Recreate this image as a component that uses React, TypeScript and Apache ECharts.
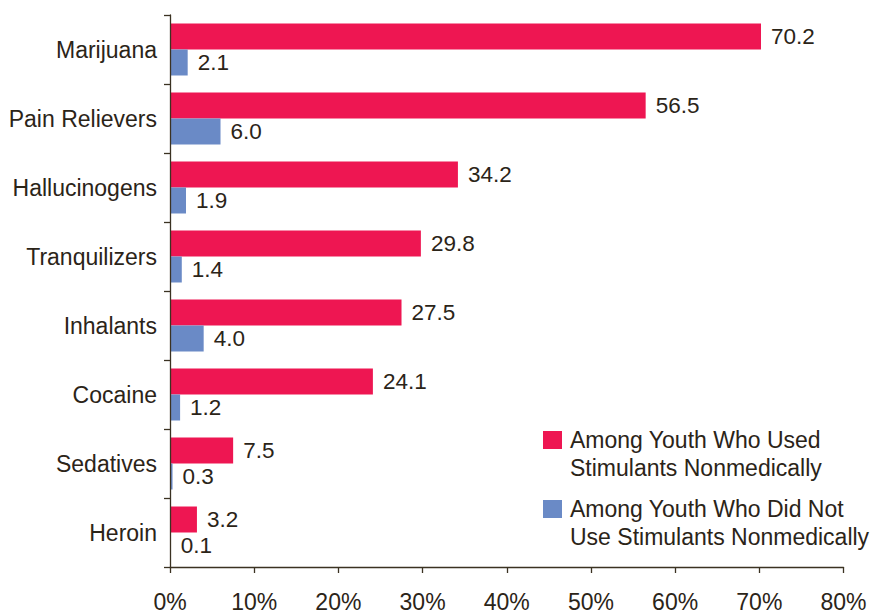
import React, { useEffect, useRef } from "react";
import * as echarts from "echarts";

const categories = [
  "Marijuana",
  "Pain Relievers",
  "Hallucinogens",
  "Tranquilizers",
  "Inhalants",
  "Cocaine",
  "Sedatives",
  "Heroin",
];
const usedValues = [70.2, 56.5, 34.2, 29.8, 27.5, 24.1, 7.5, 3.2];
const notUsedValues = [2.1, 6.0, 1.9, 1.4, 4.0, 1.2, 0.3, 0.1];
const seriesNames = [
  "Among Youth Who Used\nStimulants Nonmedically",
  "Among Youth Who Did Not\nUse Stimulants Nonmedically",
];

const TEXT = "#2b2418";
const AXIS = "#3b3222";
const FONT = '"Liberation Sans", Arial, Helvetica, sans-serif';

export default function App() {
  const ref = useRef<HTMLDivElement>(null);
  useEffect(() => {
    document.body.style.margin = "0";
    const chart = echarts.init(ref.current!, null, { renderer: "svg" });
    const label = {
      show: true,
      position: "right",
      distance: 10,
      color: TEXT,
      fontSize: 22.5,
      fontFamily: FONT,
      formatter: (p: any) => Number(p.value).toFixed(1),
    };
    chart.setOption({
      animation: false,
      textStyle: { fontFamily: FONT },
      grid: { left: 170, top: 15, right: 32.5, bottom: 46, containLabel: false },
      legend: {
        orient: "vertical",
        left: 543,
        top: 398.75,
        padding: 0,
        itemGap: -13.5,
        itemWidth: 19,
        itemHeight: 18,
        icon: "rect",
        selectedMode: false,
        formatter: (name: string) => "\n" + name,
        textStyle: {
          color: TEXT,
          fontSize: 23,
          fontFamily: FONT,
          lineHeight: 27.5,
          padding: [0, 0, 0, 3],
        },
        data: seriesNames,
      },
      xAxis: {
        type: "value",
        min: 0,
        max: 80,
        interval: 10,
        axisLine: { show: true, lineStyle: { color: AXIS, width: 1.3 } },
        axisTick: { show: true, length: 6, lineStyle: { color: AXIS, width: 1.3 } },
        splitLine: { show: false },
        axisLabel: {
          color: TEXT,
          fontSize: 23,
          fontFamily: FONT,
          margin: 23,
          formatter: "{value}%",
        },
      },
      yAxis: {
        type: "category",
        data: categories,
        inverse: true,
        z: 5,
        axisLine: { show: true, lineStyle: { color: AXIS, width: 1.3 } },
        axisTick: { show: true, length: 6, lineStyle: { color: AXIS, width: 1.3 } },
        axisLabel: { color: TEXT, fontSize: 23, fontFamily: FONT, margin: 13 },
      },
      series: [
        {
          name: seriesNames[0],
          type: "bar",
          data: usedValues,
          barWidth: 26,
          barGap: "0%",
          itemStyle: { color: "#ee1652" },
          label,
        },
        {
          name: seriesNames[1],
          type: "bar",
          data: notUsedValues,
          barWidth: 26,
          barGap: "0%",
          itemStyle: { color: "#6a8ac6" },
          label,
        },
      ],
    });
    return () => chart.dispose();
  }, []);
  return (
    <div
      ref={ref}
      style={{ position: "absolute", left: 0, top: 0, width: 876, height: 613 }}
    />
  );
}
